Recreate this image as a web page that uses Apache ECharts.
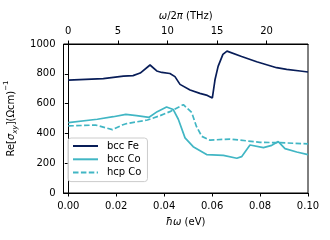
<!DOCTYPE html>
<html>
<head>
<meta charset="utf-8">
<script src="https://cdn.jsdelivr.net/npm/echarts@6/dist/echarts.min.js"></script>
<style>html,body{margin:0;padding:0;background:#fff}#c{width:330px;height:240px}</style>
</head>
<body>
<div id="c"></div>
<script>
// Data
const feX = [0, 0.0146, 0.023, 0.027, 0.030, 0.0341, 0.0369, 0.039, 0.0424, 0.0445, 0.0466, 0.0508, 0.0549, 0.058, 0.0601, 0.0612, 0.0625, 0.0645, 0.0662, 0.0723, 0.0786, 0.0869, 0.0911, 0.0967, 0.1];
const feY = [757, 767, 785, 788, 805, 859, 819, 809, 802, 781, 729, 691, 669, 655, 638, 760, 850, 930, 952, 916, 881, 841, 830, 819, 812];
const bccCoX = [0, 0.0121, 0.0188, 0.024, 0.0285, 0.0337, 0.0371, 0.041, 0.0438, 0.0459, 0.0487, 0.0521, 0.0577, 0.0647, 0.0703, 0.0723, 0.0758, 0.0814, 0.0849, 0.0876, 0.0904, 0.0953, 0.1];
const bccCoY = [472, 495, 512, 528, 519, 508, 546, 577, 560, 495, 370, 311, 258, 253, 233, 244, 322, 305, 320, 345, 298, 275, 258];
const hcpCoX = [0, 0.0114, 0.0184, 0.0225, 0.0244, 0.033, 0.0383, 0.0424, 0.048, 0.0515, 0.0535, 0.0557, 0.0591, 0.0675, 0.0744, 0.08, 0.0876, 0.1];
const hcpCoY = [450, 456, 425, 456, 466, 490, 519, 546, 593, 540, 445, 380, 355, 362, 350, 340, 338, 330];
const eVTicks = [0, 0.02, 0.04, 0.06, 0.08, 0.10];
const thzTicks = [0, 5, 10, 15, 20];
const yTicks = [0, 200, 400, 600, 800, 1000];
const seriesNames = ['bcc Fe', 'bcc Co', 'hcp Co'];

const EV_PER_THZ = 0.00413567;
const xMin = -0.002, xMax = 0.1;
const F = 'DejaVu Sans';
const zip = (xs, ys) => xs.map((x, i) => [x, ys[i]]);

const chart = echarts.init(document.getElementById('c'));
chart.setOption({
  animation: false,
  textStyle: { fontFamily: F },
  grid: { left: 63.5, right: 22, top: 44, bottom: 47, outerBoundsMode: 'none', containLabel: false, show: true, borderColor: '#000', borderWidth: 1, backgroundColor: 'transparent' },
  legend: {
    orient: 'vertical', left: 68, top: 138,
    padding: [3, 6, 4, 4], itemGap: 3.3, itemWidth: 25, itemHeight: 12,
    backgroundColor: 'rgba(255,255,255,0.8)', borderColor: '#cccccc', borderWidth: 1, borderRadius: 3,
    itemStyle: { color: 'transparent', borderWidth: 0, opacity: 0 },
    textStyle: { fontFamily: F, fontSize: 10, color: '#000', padding: [0, 0, 0, 4] },
    data: seriesNames
  },
  xAxis: [{
    type: 'value', position: 'bottom', min: xMin, max: xMax,
    axisLine: { show: true, lineStyle: { color: '#000', width: 1 } },
    axisTick: { show: true, length: 3.5, lineStyle: { color: '#000' }, customValues: eVTicks },
    axisLabel: { customValues: eVTicks, fontFamily: F, fontSize: 10, color: '#000', margin: 8, formatter: v => v.toFixed(2) },
    splitLine: { show: false },
    name: '{i|ħω} (eV)', nameLocation: 'middle', nameGap: 24,
    nameTextStyle: { fontFamily: F, fontSize: 10, color: '#000', rich: { i: { fontFamily: F, fontStyle: 'italic', fontSize: 10, color: '#000' } } }
  }, {
    type: 'value', position: 'top', min: xMin / EV_PER_THZ, max: xMax / EV_PER_THZ,
    axisLine: { show: true, lineStyle: { color: '#000', width: 1 } },
    axisTick: { show: true, length: 3.5, lineStyle: { color: '#000' }, customValues: thzTicks },
    axisLabel: { customValues: thzTicks, fontFamily: F, fontSize: 10, color: '#000', margin: 8, formatter: v => String(v) },
    splitLine: { show: false },
    name: '{i|ω}/2{i|π} (THz)', nameLocation: 'middle', nameGap: 23,
    nameTextStyle: { fontFamily: F, fontSize: 10, color: '#000', rich: { i: { fontFamily: F, fontStyle: 'italic', fontSize: 10, color: '#000' } } }
  }],
  yAxis: {
    type: 'value', min: 0, max: 1000, interval: 200,
    axisLine: { show: true, lineStyle: { color: '#000', width: 1 } },
    axisTick: { show: true, length: 3.5, lineStyle: { color: '#000' } },
    axisLabel: { fontFamily: F, fontSize: 10, color: '#000', margin: 8, formatter: v => String(v) },
    splitLine: { show: false },
    name: '{n|Re[}{i|σ}{s|xy}{n|](Ωcm)}{p|−1}', nameLocation: 'middle', nameGap: 37, nameRotate: 90,
    nameTextStyle: {
      fontFamily: F, fontSize: 10, color: '#000',
      rich: {
        n: { fontFamily: F, fontSize: 10, color: '#000', lineHeight: 16 },
        i: { fontFamily: F, fontSize: 10, fontStyle: 'italic', color: '#000', lineHeight: 16 },
        s: { fontFamily: F, fontSize: 7, fontStyle: 'italic', color: '#000', verticalAlign: 'bottom', lineHeight: 16 },
        p: { fontFamily: F, fontSize: 7, color: '#000', verticalAlign: 'top', lineHeight: 16 }
      }
    }
  },
  series: [
    { name: seriesNames[0], type: 'line', symbol: 'none', data: zip(feX, feY), lineStyle: { color: '#081d58', width: 1.7 }, itemStyle: { color: '#081d58' } },
    { name: seriesNames[1], type: 'line', symbol: 'none', data: zip(bccCoX, bccCoY), lineStyle: { color: '#41b6c4', width: 1.7 }, itemStyle: { color: '#41b6c4' } },
    { name: seriesNames[2], type: 'line', symbol: 'none', data: zip(hcpCoX, hcpCoY), lineStyle: { color: '#41b6c4', width: 1.7, type: [5.5, 2.4] }, itemStyle: { color: '#41b6c4' } }
  ]
});
</script>
</body>
</html>
